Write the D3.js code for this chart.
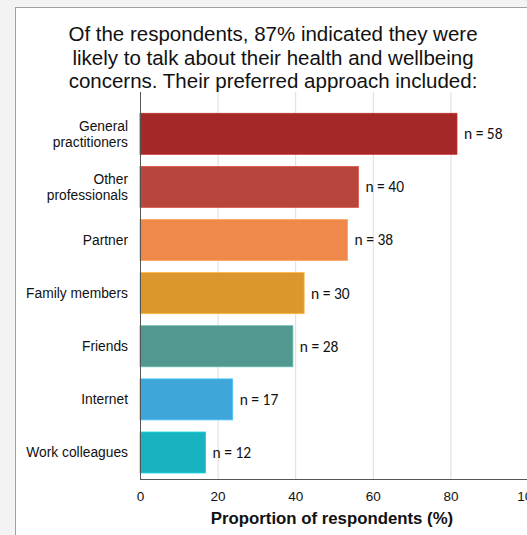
<!DOCTYPE html>
<html>
<head>
<meta charset="utf-8">
<script src="https://cdn.jsdelivr.net/npm/d3@7"></script>
<style>
  html, body { margin: 0; padding: 0; background: #f3f3f3; }
  svg { display: block; }
</style>
</head>
<body>
<svg id="chart" width="527" height="535"></svg>
<script>
// Preferred sources of support, share of respondents (%) and counts
const categories = [
  ["General", "practitioners"],
  ["Other", "professionals"],
  ["Partner"],
  ["Family members"],
  ["Friends"],
  ["Internet"],
  ["Work colleagues"]
];
const percents = [81.7, 56.3, 53.5, 42.3, 39.4, 23.9, 16.9];
const counts = [58, 40, 38, 30, 28, 17, 12];
const colors = ["#a42828", "#b9463c", "#ee894b", "#dc962e", "#519891", "#3ea6d8", "#17b3c0"];
const xTicks = [0, 20, 40, 60, 80, 100];
const titleLines = [
  "Of the respondents, 87% indicated they were",
  "likely to talk about their health and wellbeing",
  "concerns. Their preferred approach included:"
];
const xTitle = "Proportion of respondents (%)";

const svg = d3.select("#chart");

// panel
svg.append("rect")
  .attr("x", 15.5).attr("y", 7.5)
  .attr("width", 560).attr("height", 560)
  .attr("fill", "#ffffff")
  .attr("stroke", "#a0a0a0").attr("stroke-width", 1);

// title
svg.append("g").selectAll("text")
  .data(titleLines).join("text")
  .attr("x", 273)
  .attr("y", (d, i) => 41 + i * 23.5)
  .attr("text-anchor", "middle")
  .attr("font-family", "Liberation Sans, Arial, sans-serif")
  .attr("font-size", 20.5)
  .attr("fill", "#111")
  .text(d => d);

const x = d3.scaleLinear().domain([0, 100]).range([140, 528]);
const idx = d3.range(categories.length);
const y = d3.scaleBand().domain(idx).range([107.3, 479])
  .paddingInner(0.228).paddingOuter(0.113);

const plotTop = 92, plotBottom = 479;

// vertical gridlines
svg.append("g").selectAll("line")
  .data(xTicks.filter(t => t > 0)).join("line")
  .attr("x1", d => x(d) + 0.5).attr("x2", d => x(d) + 0.5)
  .attr("y1", plotTop).attr("y2", plotBottom)
  .attr("stroke", "#dcdcdc").attr("stroke-width", 1);

// bars
svg.append("g").selectAll("rect")
  .data(idx).join("rect")
  .attr("x", x(0))
  .attr("y", i => y(i))
  .attr("width", i => x(percents[i]) - x(0))
  .attr("height", y.bandwidth())
  .attr("fill", i => colors[i])
  .attr("stroke", i => d3.color(colors[i]).brighter(0.5))
  .attr("stroke-width", 0.8);

// axes lines
svg.append("line")
  .attr("x1", x(0) + 0.5).attr("x2", x(0) + 0.5)
  .attr("y1", plotTop).attr("y2", plotBottom)
  .attr("stroke", "#555").attr("stroke-width", 1);
svg.append("line")
  .attr("x1", x(0)).attr("x2", 528)
  .attr("y1", plotBottom + 0.5).attr("y2", plotBottom + 0.5)
  .attr("stroke", "#555").attr("stroke-width", 1);

// x-axis tick labels
const xAxis = d3.axisBottom(x).tickValues(xTicks).tickSize(0).tickPadding(0);
const gx = svg.append("g").attr("transform", `translate(0,${plotBottom + 17})`).call(xAxis);
gx.select(".domain").remove();
gx.selectAll("text")
  .attr("font-family", "Liberation Sans, Arial, sans-serif")
  .attr("font-size", 13.5)
  .attr("fill", "#111")
  .attr("dy", "0.35em")
  .attr("y", 0);

// x-axis title
svg.append("text")
  .attr("x", 332).attr("y", 524)
  .attr("text-anchor", "middle")
  .attr("font-family", "Liberation Sans, Arial, sans-serif")
  .attr("font-weight", "bold")
  .attr("font-size", 16.8)
  .attr("fill", "#111")
  .text(xTitle);

// category labels
const catG = svg.append("g").selectAll("text")
  .data(idx).join("text")
  .attr("text-anchor", "end")
  .attr("font-family", "Liberation Sans, Arial, sans-serif")
  .attr("font-size", 13.8)
  .attr("fill", "#111");
catG.each(function(i) {
  const lines = categories[i];
  const cy = y(i) + y.bandwidth() / 2;
  const t = d3.select(this);
  lines.forEach((ln, k) => {
    t.append("tspan")
      .attr("x", 128)
      .attr("y", cy + (k - (lines.length - 1) / 2) * 16)
      .attr("dy", "0.35em")
      .text(ln);
  });
});

// count labels
svg.append("g").selectAll("text")
  .data(idx).join("text")
  .attr("x", i => x(percents[i]) + 7)
  .attr("y", i => y(i) + y.bandwidth() / 2)
  .attr("dy", "0.35em")
  .attr("font-family", "Carlito, Lato, sans-serif")
  .attr("font-size", 15.5)
  .attr("fill", "#111")
  .text(i => `n = ${counts[i]}`);
</script>
</body>
</html>
